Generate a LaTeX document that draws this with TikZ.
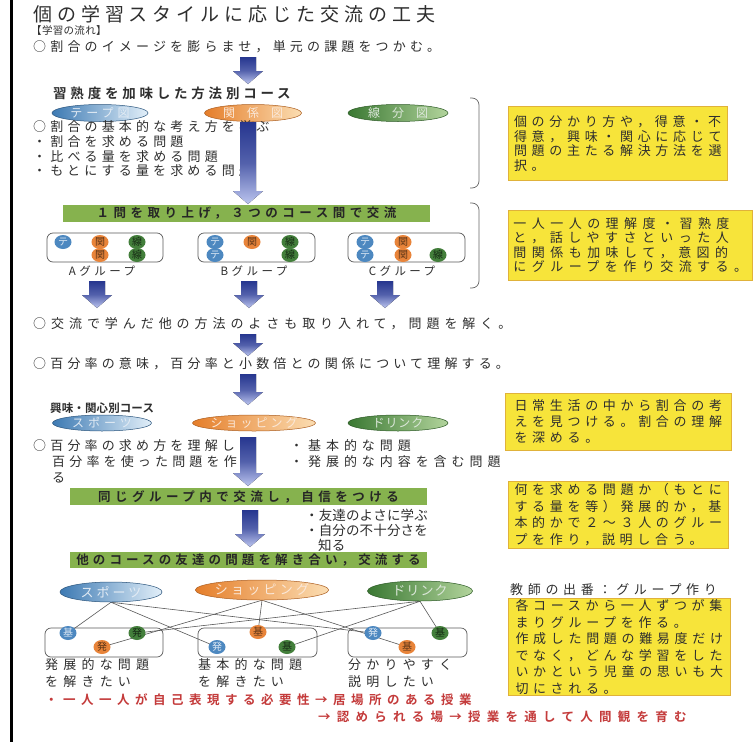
\documentclass[tikz,border=0pt]{standalone}
\usepackage{fontspec}
\setmainfont{Noto Sans CJK JP}[BoldFont={* Bold}]
\usetikzlibrary{shapes.geometric}
\pgfdeclarelayer{bgw}
\pgfdeclarelayer{bg}
\pgfsetlayers{bgw,bg,main}
\definecolor{txtc}{HTML}{2E2E2E}
\definecolor{yel}{HTML}{F7E43A}
\definecolor{yelb}{HTML}{E0B23A}
\definecolor{grn}{HTML}{86B24E}
\definecolor{blD}{HTML}{3D7AB3}
\definecolor{blL}{HTML}{E2EFF9}
\definecolor{orD}{HTML}{E57E2A}
\definecolor{orL}{HTML}{FBDDB2}
\definecolor{grD}{HTML}{3A7832}
\definecolor{grL}{HTML}{B2D49C}
\definecolor{navy}{HTML}{26368F}
\definecolor{lav}{HTML}{BCC5EF}
\definecolor{redc}{HTML}{C43B3B}
\definecolor{cbl}{HTML}{4D88C0}
\definecolor{cor}{HTML}{E8843A}
\definecolor{cgr}{HTML}{437F3B}
\newcommand\jf[3]{\fontsize{#1}{#2}\selectfont\addfontfeatures{LetterSpace=#3}}
\newcommand\barrow[3]{\fill[top color=navy, bottom color=lav, middle color=navy!70!lav] (#1-8,#2) -- (#1+8,#2) -- (#1+8,#3-13) -- (#1+15,#3-13) -- (#1,#3) -- (#1-15,#3-13) -- (#1-8,#3-13) -- cycle;}
\begin{document}
\begin{tikzpicture}[x=1pt,y=-1pt,
  txt/.style={anchor=west, inner sep=0pt, text=txtc, font={\jf{13}{15}{32}}},
  ybox/.style={anchor=north west, draw=yelb, line width=0.6pt, fill=yel, inner sep=0pt, align=left, text=txtc},
  gbar/.style={fill=grn, inner sep=0pt, text=black!85, font={\bfseries\jf{12.5}{14}{36}}},
  ell/.style={ellipse, inner sep=0pt, line width=0.5pt},
  eB/.style={ell, left color=blD, right color=blL, draw=blD!70!black, text=white!85!blD},
  eO/.style={ell, left color=orD, right color=orL, draw=orD!75!black, text=white!82!orD},
  eG/.style={ell, left color=grD, right color=grL, draw=grD!75!black, text=white!82!grD},
  gbox/.style={draw=black!65, rounded corners=6pt, line width=0.7pt, inner sep=0pt},
  sdot/.style={ellipse, minimum width=17pt, minimum height=14pt, inner sep=0pt, font={\fontsize{10}{10}\selectfont}},
  dB/.style={sdot, fill=cbl, text=white!80!cbl},
  dO/.style={sdot, fill=cor, text=cor!40!black},
  dG/.style={sdot, fill=cgr, text=cgr!35!black},
  brk/.style={draw=black!60, line width=0.7pt, rounded corners=7pt},
  link/.style={draw=black!65, line width=0.6pt},
  redt/.style={txt, text=redc, font={\bfseries\jf{12.5}{14}{44}}}
]
\useasboundingbox (0,0) rectangle (755,742);
\begin{pgfonlayer}{bgw}
\fill[white] (0,0) rectangle (755,742);
\end{pgfonlayer}
\draw[line width=3pt] (11,0) -- (11,742);

% top
\node[txt, font={\jf{19}{21}{26}}] (title) at (33,14) {個の学習スタイルに応じた交流の工夫};
\node[txt, font={\jf{10.5}{12}{3}}] (flow) at (31,31) {【学習の流れ】};
\node[txt] (s1) at (33,47) {○割合のイメージを膨らませ，単元の課題をつかむ。};
\barrow{248}{57}{84}

% course 1
\node[txt, font={\bfseries\jf{13.5}{15}{28}}] (h1) at (53,93) {習熟度を加味した方法別コース};
\node[eB, minimum width=96pt, minimum height=17pt, font={\jf{12}{12}{33}}] (c1) at (100,113) {テープ図};
\node[eO, minimum width=97pt, minimum height=17pt, font={\jf{12}{12}{100}}] (c2) at (253,113) {関係図};
\node[eG, minimum width=100pt, minimum height=17pt, font={\jf{12}{12}{100}}] (c3) at (398,113) {線分図};
\draw[brk] (470,98) -- (479,98) -- (479,188) -- (470,188);
\node[ybox, minimum width=219pt, minimum height=74pt, font={\jf{13}{14.5}{36}}] (y1) at (508,106) {個の分かり方や，得意・不\\得意，興味・関心に応じて\\問題の主たる解決方法を選\\択。};
\node[txt] (l0) at (33,127) {○割合の基本的な考え方を学ぶ};
\node[txt] (l1) at (33,142) {・割合を求める問題};
\node[txt] (l2) at (33,157) {・比べる量を求める問題};
\node[txt] (l3) at (33,171) {・もとにする量を求める問題};
\barrow{248}{122}{204}

% exchange 1
\node[gbar, minimum width=367pt, minimum height=17pt] (g1) at (246.5,213) {１問を取り上げ，３つのコース間で交流};
\draw[brk] (470,203) -- (479,203) -- (479,288) -- (470,288);
\node[ybox, minimum width=244pt, minimum height=70pt, font={\jf{13}{14.5}{42}}] (y2) at (508,210) {一人一人の理解度・習熟度\\と，話しやすさといった人\\間関係も加味して，意図的\\にグループを作り交流する。};
\node[gbox, minimum width=116pt, minimum height=29pt] (gA) at (105,247.5) {};
\node[gbox, minimum width=117pt, minimum height=29pt] (gB) at (256.5,247.5) {};
\node[gbox, minimum width=117pt, minimum height=29pt] (gC) at (406.5,247.5) {};
\node[dB] (a1) at (63,242) {テ};
\node[dO] (a2) at (100,242) {関};
\node[dG] (a3) at (137,242) {線};
\node[dO] (a4) at (100,255) {関};
\node[dG] (a5) at (137,255) {線};
\node[dB] (b1) at (215,242) {テ};
\node[dO] (b2) at (252,242) {関};
\node[dG] (b3) at (290,242) {線};
\node[dB] (b4) at (215,255) {テ};
\node[dG] (b5) at (290,255) {線};
\node[dB] (k1) at (365,242) {テ};
\node[dO] (k2) at (403,242) {関};
\node[dB] (k3) at (365,255) {テ};
\node[dO] (k4) at (403,255) {関};
\node[dG] (k5) at (438,255) {線};
\node[inner sep=0pt, text=txtc, font={\jf{11.5}{12}{30}}] (la) at (102,271) {Aグループ};
\node[inner sep=0pt, text=txtc, font={\jf{11.5}{12}{30}}] (lb) at (254,271) {Bグループ};
\node[inner sep=0pt, text=txtc, font={\jf{11.5}{12}{30}}] (lc) at (402,271) {Cグループ};
\barrow{97}{281}{308}
\barrow{249}{281}{308}
\barrow{385}{281}{308}

\node[txt, font={\jf{13}{15}{38}}] (t1) at (33,324) {○交流で学んだ他の方法のよさも取り入れて，問題を解く。};
\barrow{248}{334}{356}
\node[txt] (t2) at (33,364) {○百分率の意味，百分率と小数倍との関係について理解する。};
\barrow{248}{374}{405}

% course 2
\node[txt, font={\bfseries\jf{11.5}{12}{1}}] (h2) at (50,408) {興味・関心別コース};
\node[eB, minimum width=99pt, minimum height=16pt, font={\jf{12}{12}{33}}] (d1) at (102,423) {スポーツ};
\node[eO, minimum width=99pt, minimum height=16pt, font={\jf{12}{12}{25}}] (d2) at (254,423) {ショッピング};
\node[eG, minimum width=100pt, minimum height=16pt, font={\jf{12}{12}{8}}] (d3) at (398,423) {ドリンク};
\node[ybox, minimum width=226pt, minimum height=57pt, font={\jf{13}{16}{36}}] (y3) at (505,393) {日常生活の中から割合の考\\えを見つける。割合の理解\\を深める。};
\node[txt] (m1) at (33,446) {○百分率の求め方を理解し};
\node[txt] (m2) at (52,462) {百分率を使った問題を作};
\node[txt] (m3) at (52,478) {る};
\node[txt, font={\jf{13}{15}{38}}] (m4) at (290,446) {・基本的な問題};
\node[txt, font={\jf{13}{15}{38}}] (m5) at (290,462) {・発展的な内容を含む問題};
\barrow{248}{437}{486}

\node[ybox, minimum width=220pt, minimum height=67pt, font={\jf{13}{16.5}{36}}] (y4) at (508,481) {何を求める問題か（もとに\\する量を等）発展的か，基\\本的かで２〜３人のグルー\\プを作り，説明し合う。};
\node[gbar, minimum width=357pt, minimum height=17pt] (g2) at (248.5,496.5) {同じグループ内で交流し，自信をつける};
\barrow{250}{510}{547}
\node[txt, font={\jf{13.5}{15}{1}}] (n1) at (305,515) {・友達のよさに学ぶ};
\node[txt, font={\jf{13.5}{15}{1}}] (n2) at (305,530) {・自分の不十分さを};
\node[txt, font={\jf{13.5}{15}{1}}] (n3) at (318,545) {知る};
\node[gbar, minimum width=357pt, minimum height=16pt, font={\bfseries\jf{12.5}{14}{33}}] (g3) at (248.5,560) {他のコースの友達の問題を解き合い，交流する};

% course 3
\node[eB, minimum width=102pt, minimum height=20pt, font={\jf{13}{13}{23}}] (s) at (111,592) {スポーツ};
\node[eO, minimum width=108pt, minimum height=20pt, font={\jf{13}{13}{25}}] (h) at (262,590) {ショッピング};
\node[eG, minimum width=105pt, minimum height=20pt, font={\jf{13}{13}{8}}] (d) at (420,591) {ドリンク};
\node[txt, font={\jf{13}{15}{36}}] (teach) at (510,590) {教師の出番：グループ作り};
\node[ybox, minimum width=222pt, minimum height=97pt, font={\jf{13}{16.5}{36}}] (y5) at (508,598) {各コースから一人ずつが集\\まりグループを作る。\\作成した問題の難易度だけ\\でなく，どんな学習をした\\いかという児童の思いも大\\切にされる。};
\node[gbox, minimum width=118pt, minimum height=29pt] (x1) at (104,642.5) {};
\node[gbox, minimum width=119pt, minimum height=29pt] (x2) at (257.5,642.5) {};
\node[gbox, minimum width=119pt, minimum height=29pt] (x3) at (407.5,642.5) {};
\node[dB] (p1) at (68,633) {基};
\node[dG] (p2) at (137,633) {発};
\node[dO] (p3) at (102,647) {発};
\node[dO] (q1) at (258,632) {基};
\node[dB] (q2) at (217,647) {発};
\node[dG] (q3) at (287,647) {基};
\node[dB] (r1) at (373,633) {発};
\node[dG] (r2) at (440,633) {基};
\node[dO] (r3) at (407,647) {基};
\begin{pgfonlayer}{bg}
\draw[link] (s.south) -- (p1.center);
\draw[link] (s.south) -- (q2.center);
\draw[link] (s.south) -- (r1.center);
\draw[link] (h.south) -- (p3.center);
\draw[link] (h.south) -- (q1.center);
\draw[link] (h.south) -- (r3.center);
\draw[link] (d.south) -- (p2.center);
\draw[link] (d.south) -- (q3.center);
\draw[link] (d.south) -- (r2.center);
\end{pgfonlayer}
\node[txt, font={\jf{13}{15}{40}}] (u1) at (45,665) {発展的な問題};
\node[txt, font={\jf{13}{15}{40}}] (u2) at (45,682) {を解きたい};
\node[txt, font={\jf{13}{15}{40}}] (v1) at (198,665) {基本的な問題};
\node[txt, font={\jf{13}{15}{40}}] (v2) at (198,682) {を解きたい};
\node[txt, font={\jf{13}{15}{40}}] (w1) at (348,665) {分かりやすく};
\node[txt, font={\jf{13}{15}{40}}] (w2) at (348,682) {説明したい};
\node[redt] (r1t) at (45,700) {・一人一人が自己表現する必要性→居場所のある授業};
\node[redt, font={\bfseries\jf{12.5}{14}{50}}] (r2t) at (318,717) {→認められる場→授業を通して人間観を育む};
\end{tikzpicture}
\end{document}
